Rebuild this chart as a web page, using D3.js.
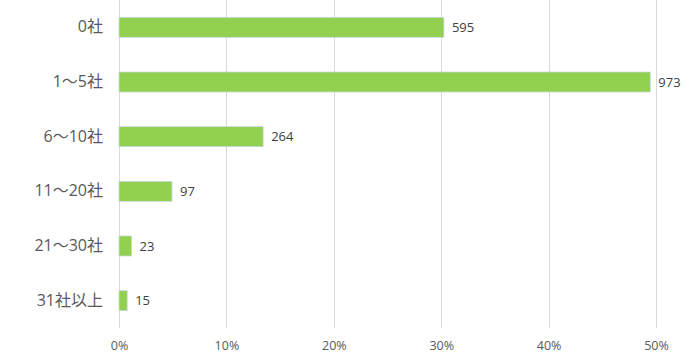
<!DOCTYPE html>
<html><head><meta charset="utf-8">
<script src="https://cdn.jsdelivr.net/npm/d3@7"></script>
<style>body{margin:0;background:#fff}svg{display:block}text{font-family:"Open Sans","Noto Sans CJK JP",sans-serif}</style>
</head><body>
<script>
const categories = ["0社","1～5社","6～10社","11～20社","21～30社","31社以上"];
const counts = [595, 973, 264, 97, 23, 15];
const tickValues = [0, 0.1, 0.2, 0.3, 0.4, 0.5];

const W = 699, H = 360;
const margin = {left: 119, right: 43, top: 0, bottom: 32};
const total = d3.sum(counts);
const shares = counts.map(c => c / total);

const svg = d3.select("body").append("svg").attr("width", W).attr("height", H);
const x = d3.scaleLinear().domain([0, 0.5]).range([margin.left, W - margin.right]);
const y = d3.scaleBand().domain(categories).range([margin.top, H - margin.bottom]).paddingInner(0.634).paddingOuter(0.317);

svg.append("g").selectAll("line").data(tickValues).join("line")
  .attr("x1", d => Math.round(x(d)) + 0.5).attr("x2", d => Math.round(x(d)) + 0.5)
  .attr("y1", margin.top).attr("y2", H - margin.bottom)
  .attr("stroke", "#d9d9d9").attr("stroke-width", 1);

const xAxis = d3.axisBottom(x).tickValues(tickValues).tickFormat(d3.format(".0%")).tickSize(0).tickPadding(13);
const gx = svg.append("g").attr("transform", `translate(0,${H - margin.bottom})`).call(xAxis);
gx.select(".domain").remove();
gx.selectAll("text").attr("font-size", 12.5).attr("fill", "#595959");

const bars = svg.append("g").selectAll("rect").data(categories).join("rect")
  .attr("x", x(0)).attr("y", (d) => y(d))
  .attr("width", (d, i) => x(shares[i]) - x(0))
  .attr("height", y.bandwidth())
  .attr("fill", "#92d050").attr("stroke", "#c7d6e6").attr("stroke-width", 0.75);

svg.append("g").selectAll("text").data(categories).join("text")
  .attr("x", (d, i) => x(shares[i]) + 8)
  .attr("y", d => y(d) + y.bandwidth() / 2)
  .attr("dy", "0.35em").attr("font-size", 13).attr("fill", "#404040")
  .text((d, i) => counts[i]);

const yAxis = d3.axisLeft(y).tickSize(0).tickPadding(16);
const gy = svg.append("g").attr("transform", `translate(${margin.left},0)`).call(yAxis);
gy.select(".domain").remove();
gy.selectAll("text").attr("font-size", 16).attr("fill", "#595959");
</script>
</body></html>
